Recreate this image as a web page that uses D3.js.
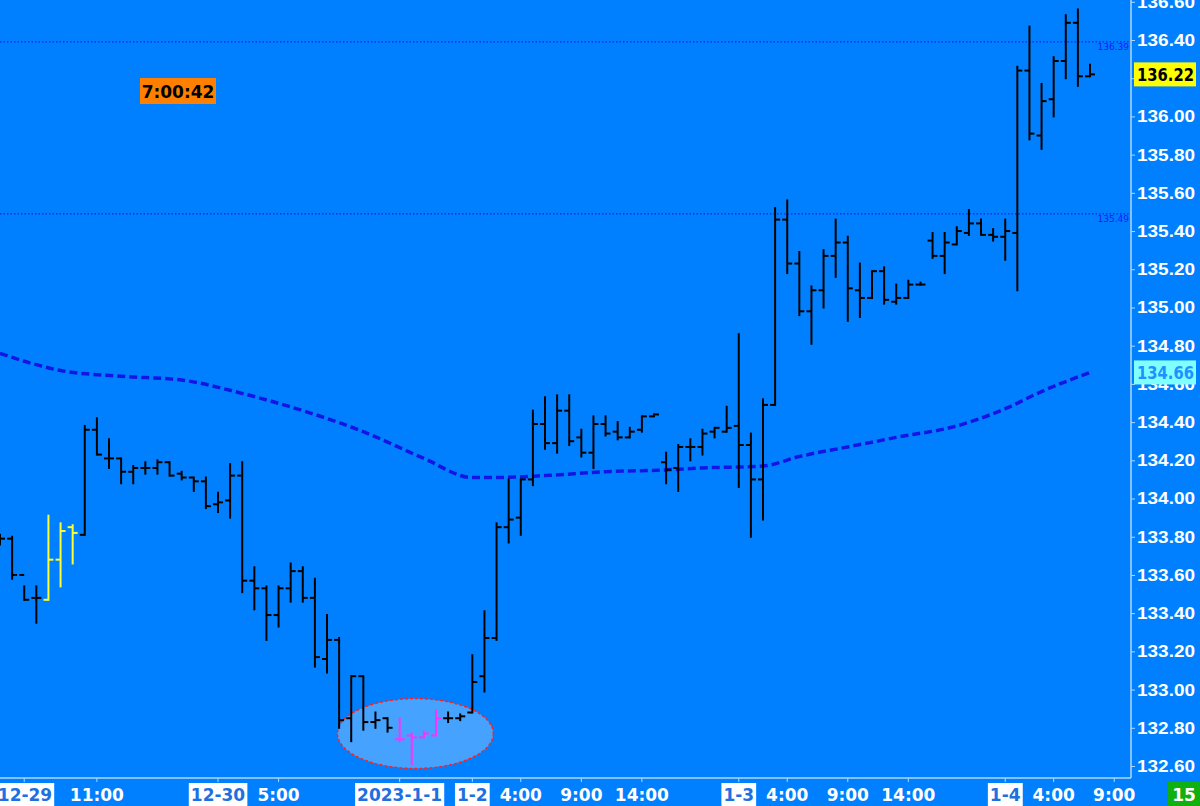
<!DOCTYPE html>
<html lang="en">
<head>
<meta charset="UTF-8">
<script src="https://d3js.org/d3.v7.min.js"></script>
<style>
  body { margin: 0; background: #0080ff; }
  svg { display: block; font-family: "DejaVu Sans", sans-serif; }
</style>
</head>
<body>
<svg id="canvas" width="1200" height="806"></svg>
<script>
// OHLC per bar (index = bar slot)
const opens  = [133.79,133.79,133.60,133.48,133.47,133.68,133.85,133.81,134.36,134.21,134.21,134.14,134.16,134.16,134.19,134.13,134.11,134.09,133.97,133.99,134.12,133.57,133.53,133.39,133.53,133.62,133.48,133.16,133.26,132.85,133.07,132.83,132.85,132.74,132.76,132.75,132.76,132.85,132.85,132.88,133.07,133.27,133.85,133.90,134.10,134.39,134.29,134.46,134.32,134.24,134.39,134.35,134.32,134.36,134.43,134.19,134.16,134.27,134.27,134.35,134.35,134.38,134.28,134.10,134.49,135.46,135.23,134.98,135.09,135.27,135.34,135.09,135.05,135.19,135.03,135.05,135.12,135.35,135.27,135.33,135.39,135.44,135.38,135.37,135.39,136.24,135.90,136.09,136.29,136.49,136.21];
const highs  = [133.81,133.80,133.54,133.54,133.91,133.87,133.86,134.38,134.42,134.31,134.21,134.17,134.19,134.20,134.19,134.14,134.11,134.11,134.03,134.18,134.19,133.64,133.54,133.54,133.66,133.64,133.58,133.39,133.27,133.07,133.07,132.88,132.85,132.85,132.77,132.78,132.89,132.88,132.87,133.18,133.41,133.87,134.10,134.10,134.46,134.53,134.54,134.54,134.36,134.43,134.43,134.40,134.37,134.43,134.44,134.24,134.28,134.31,134.36,134.37,134.48,134.86,134.34,134.52,135.52,135.56,135.29,135.11,135.30,135.46,135.37,135.23,135.19,135.21,135.12,135.14,135.13,135.39,135.39,135.42,135.51,135.46,135.41,135.46,136.26,136.47,136.17,136.31,136.53,136.56,136.27];
const lows   = [133.76,133.58,133.47,133.35,133.47,133.54,133.66,133.81,134.23,134.16,134.08,134.08,134.13,134.13,134.12,134.10,134.04,133.95,133.93,133.90,133.51,133.42,133.26,133.33,133.46,133.46,133.12,133.09,132.80,132.73,132.79,132.80,132.78,132.73,132.61,132.75,132.76,132.83,132.84,132.88,132.99,133.26,133.77,133.81,134.07,134.26,134.24,134.28,134.22,134.16,134.33,134.31,134.32,134.35,134.43,134.08,134.04,134.20,134.23,134.32,134.35,134.06,133.80,133.89,134.49,135.18,134.96,134.81,135.00,135.16,134.93,134.95,135.05,135.02,135.02,135.05,135.12,135.26,135.18,135.33,135.38,135.38,135.35,135.25,135.09,135.88,135.83,136.00,136.20,136.16,136.21];
const closes = [133.79,133.60,133.47,133.48,133.68,133.83,133.82,134.36,134.23,134.21,134.14,134.16,134.16,134.19,134.12,134.11,134.09,133.96,133.98,134.12,133.57,133.53,133.39,133.53,133.62,133.48,133.17,133.26,132.84,133.07,132.83,132.84,132.80,132.74,132.75,132.77,132.85,132.85,132.86,133.04,133.27,133.85,133.89,134.10,134.39,134.29,134.46,134.30,134.24,134.39,134.34,134.32,134.35,134.43,134.44,134.15,134.27,134.27,134.34,134.37,134.37,134.28,134.10,134.49,135.46,135.23,134.98,135.09,135.27,135.34,135.10,135.05,135.19,135.04,135.05,135.12,135.12,135.27,135.34,135.40,135.44,135.38,135.37,135.40,136.24,135.91,136.08,136.29,136.49,136.21,136.22];
const yellowBars = [4, 5, 6];
const magentaBars = [33, 34, 35, 36];

// moving average: [bar index, value]
const maIdx = [0,5,10,15,20,25,30,35,39,41,45,50,55,58,63,66,70,74,79,83,86,90];
const maVal = [134.76,134.67,134.64,134.62,134.55,134.46,134.35,134.21,134.11,134.11,134.12,134.14,134.15,134.16,134.17,134.22,134.27,134.32,134.38,134.47,134.56,134.66];

const priceTicks = d3.range(132.6, 136.61, 0.2);
const levels = [136.39, 135.49];
const timeIdx    = [2, 8, 18, 23, 33, 39, 43, 48, 53, 61, 65, 70, 75, 83, 87, 92];
const timeLabels = ["12-29","11:00","12-30","5:00","2023-1-1","1-2","4:00","9:00","14:00","1-3","4:00","9:00","14:00","1-4","4:00","9:00"];
const dateLabels = ["12-29","12-30","2023-1-1","1-2","1-3","1-4"];

const svg = d3.select('#canvas');
const x = d3.scaleLinear().domain([0, 90]).range([0, 1090]);
const y = d3.scaleLinear().domain([132.6, 136.4]).range([766, 40]);

svg.append('rect').attr('width', 1200).attr('height', 806).attr('fill', '#0080ff');

// highlight ellipse
svg.append('ellipse')
  .attr('cx', x(34.3)).attr('cy', y(132.77))
  .attr('rx', 78).attr('ry', 35)
  .attr('fill', '#45a2ff').attr('stroke', '#ff2020')
  .attr('stroke-width', 1.5).attr('stroke-dasharray', '3,2');

// level lines
levels.forEach(v => {
  svg.append('line').attr('x1', 0).attr('x2', 1130).attr('y1', y(v)).attr('y2', y(v))
    .attr('stroke', '#1818ff').attr('stroke-width', 1.3).attr('stroke-dasharray', '1.5,2');
  svg.append('text').attr('x', 1129).attr('y', y(v) + 8).attr('text-anchor', 'end')
    .attr('font-size', 9).attr('fill', '#1818ff').text(v.toFixed(2));
});

// MA line
const maLine = d3.line().x(d => x(d[0])).y(d => y(d[1])).curve(d3.curveMonotoneX);
svg.append('path').datum(maIdx.map((d, i) => [d, maVal[i]]))
  .attr('d', maLine).attr('fill', 'none').attr('stroke', '#1414e6')
  .attr('stroke-width', 3.5).attr('stroke-dasharray', '8,4');

// OHLC bars
const bars = svg.append('g');
opens.forEach((o, i) => {
  const c = yellowBars.includes(i) ? '#ffff30' : magentaBars.includes(i) ? '#ff30ff' : '#000';
  const g = bars.append('g').attr('stroke', c).attr('stroke-width', 2);
  const cx = x(i);
  g.append('line').attr('x1', cx).attr('x2', cx).attr('y1', y(highs[i]) - 1).attr('y2', y(lows[i]) + 1);
  g.append('line').attr('x1', cx - 5).attr('x2', cx).attr('y1', y(o)).attr('y2', y(o));
  g.append('line').attr('x1', cx).attr('x2', cx + 5).attr('y1', y(closes[i])).attr('y2', y(closes[i]));
});

// right axis
svg.append('line').attr('x1', 1131).attr('x2', 1131).attr('y1', 0).attr('y2', 778)
  .attr('stroke', '#b0d8ff').attr('stroke-width', 1.5);
const yAxis = svg.append('g').attr('transform', 'translate(1131,0)')
  .call(d3.axisRight(y).tickValues(priceTicks).tickSize(4).tickFormat(d3.format('.2f')));
yAxis.select('.domain').remove();
yAxis.selectAll('line').attr('stroke', '#b0d8ff');
yAxis.selectAll('text').attr('fill', '#fff').attr('font-size', 17).attr('font-weight', 'bold')
  .attr('x', 6).attr('textLength', 58).attr('lengthAdjust', 'spacingAndGlyphs');

function priceBox(v, bg, fg) {
  svg.append('rect').attr('x', 1134).attr('y', y(v) - 12).attr('width', 62).attr('height', 24).attr('fill', bg);
  svg.append('text').attr('x', 1137).attr('y', y(v) + 7).attr('fill', fg)
    .attr('font-size', 18).attr('font-weight', 'bold')
    .attr('textLength', 57).attr('lengthAdjust', 'spacingAndGlyphs').text(v.toFixed(2));
}
priceBox(closes[closes.length - 1], '#ffff00', '#000');
priceBox(maVal[maVal.length - 1], '#80ffff', '#1e90ff');

// bottom axis
svg.append('line').attr('x1', 0).attr('x2', 1131).attr('y1', 778).attr('y2', 778)
  .attr('stroke', '#b0d8ff').attr('stroke-width', 1.5);
timeIdx.forEach((t, i) => {
  const lbl = timeLabels[i];
  const isDate = dateLabels.includes(lbl);
  const tx = Math.max(x(t), 25);
  svg.append('line').attr('x1', x(t)).attr('x2', x(t)).attr('y1', 778).attr('y2', 782).attr('stroke', '#b0d8ff');
  const txt = svg.append('text').attr('x', tx).attr('y', 801).attr('text-anchor', 'middle')
    .attr('font-size', 17).attr('font-weight', 'bold')
    .attr('fill', isDate ? '#1e70e0' : '#fff').text(lbl);
  if (isDate) {
    const b = txt.node().getBBox();
    svg.insert('rect', () => txt.node()).attr('x', b.x - 2).attr('y', 783)
      .attr('width', b.width + 4).attr('height', 23).attr('fill', '#fff');
  }
});

svg.append('rect').attr('x', 1168).attr('y', 782).attr('width', 32).attr('height', 24).attr('fill', '#10b010');
svg.append('text').attr('x', 1184).attr('y', 801).attr('text-anchor', 'middle')
  .attr('font-size', 17).attr('font-weight', 'bold').attr('fill', '#fff').text('15');

// countdown
svg.append('rect').attr('x', 140).attr('y', 78).attr('width', 76).attr('height', 26).attr('fill', '#ff8000');
svg.append('text').attr('x', 178).attr('y', 98).attr('text-anchor', 'middle')
  .attr('font-size', 17).attr('font-weight', 'bold').attr('fill', '#000').text('7:00:42');
</script>
</body>
</html>
